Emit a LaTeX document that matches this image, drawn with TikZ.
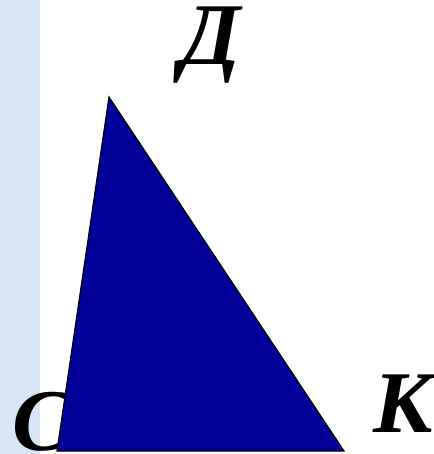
\documentclass[tikz,border=0pt]{standalone}
\usepackage{fontspec}
\setmainfont{Liberation Serif}
\usetikzlibrary{positioning}
\definecolor{triBlue}{RGB}{0,0,153}
\definecolor{bgBlue}{RGB}{214,230,244}

\begin{document}
\begin{tikzpicture}[x=1pt,y=-1pt,
        lbl/.style={font=\fontsize{88}{88}\selectfont\bfseries\itshape,
                    inner sep=0pt,anchor=base},
        tri/.style={draw=black,fill=triBlue,line width=1.2pt,line join=miter}]

        \useasboundingbox (0,0) rectangle (433,454);
        % background strip
        \fill[bgBlue] (0,0) rectangle (40,454);

        \coordinate (d) at (109,97);
        \coordinate (c) at (57,451);
        \coordinate (k) at (344,451);

        \node[lbl] (lc) at (42,450) {С};
        \draw[tri] (d) -- (c) -- (k) -- cycle;

        % labels
        \node[lbl] (ld) at (211,65) {Д};
        \node[lbl] (lk) at (403,432) {К};
      \end{tikzpicture}
\end{document}
